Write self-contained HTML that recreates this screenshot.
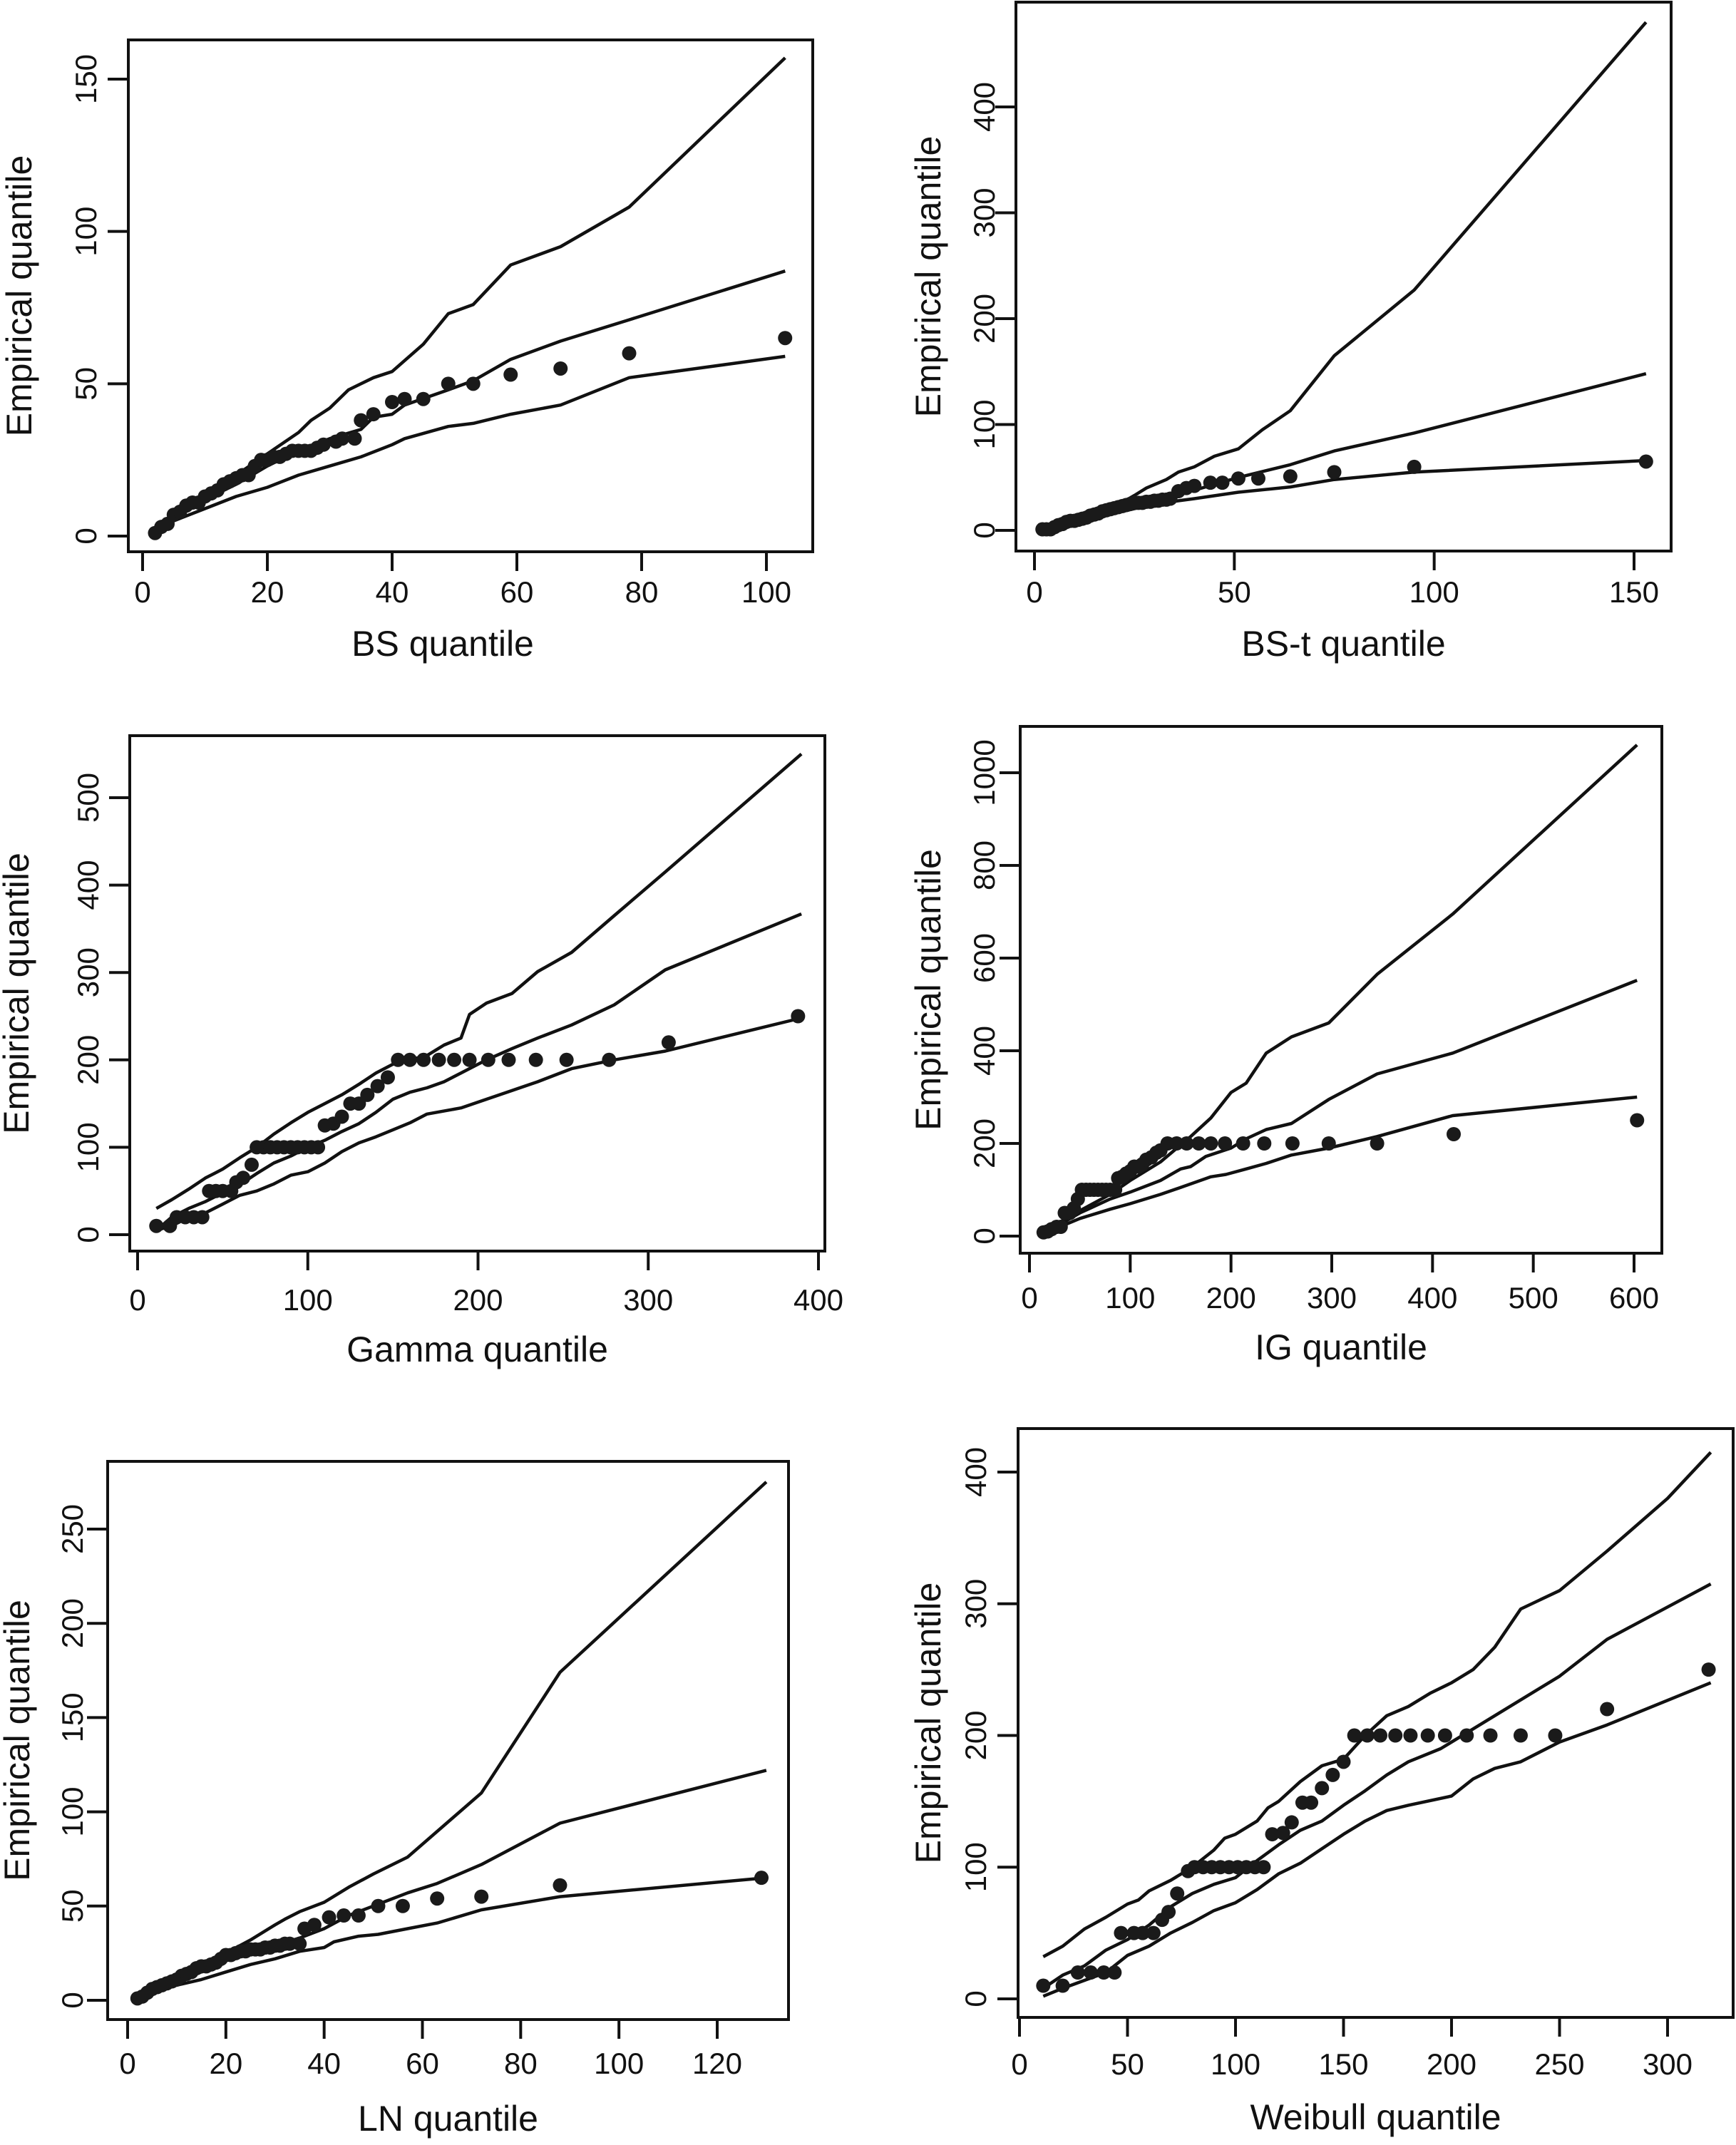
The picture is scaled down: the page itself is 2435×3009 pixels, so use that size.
<!DOCTYPE html>
<html><head><meta charset="utf-8"><style>
html,body{margin:0;padding:0;background:#fff;}
svg{display:block;font-family:"Liberation Sans",Arial,sans-serif;}
</style></head><body>
<svg id="fig" width="2435" height="3009" viewBox="0 0 2435 3009" xmlns="http://www.w3.org/2000/svg"></svg>
<script>
// ---- Panel 1: BS ----
const bsXTicks=[0,20,40,60,80,100];
const bsYTicks=[0,50,100,150];
const bsUpper=[[2,1],[5,7],[10,13],[15,20],[20,27],[25,34],[27,38],[30,42],[33,48],[37,52],[40,54],[45,63],[49,73],[53,76],[59,89],[67,95],[78,108],[103,157]];
const bsMedian=[[2,1],[5,6],[10,12],[15,17],[20,23],[25,28],[30,32],[35,35],[37,39],[40,40],[42,43],[49,48],[53,51],[59,58],[67,64],[78,71],[103,87]];
const bsLower=[[2,1],[5,5],[10,9],[15,13],[20,16],[25,20],[30,23],[35,26],[40,30],[42,32],[49,36],[53,37],[59,40],[67,43],[78,52],[103,59]];
const bsPoints=[[2,1],[3,3],[4,4],[5,7],[6,8],[7,10],[8,11],[9,11],[10,13],[11,14],[12,15],[13,17],[14,18],[15,19],[16,20],[17,20],[18,23],[19,25],[20,25],[21,26],[22,26],[23,27],[24,28],[25,28],[26,28],[27,28],[28,29],[29,30],[31,31],[32,32],[34,32],[35,38],[37,40],[40,44],[42,45],[45,45],[49,50],[53,50],[59,53],[67,55],[78,60],[103,65]];
// ---- Panel 2: BS-t ----
const btXTicks=[0,50,100,150];
const btYTicks=[0,100,200,300,400];
const btUpper=[[2,2],[10,10],[20,22],[25,33],[28,40],[33,48],[36,55],[40,60],[45,70],[51,77],[57,95],[64,113],[75,165],[95,227],[153,480]];
const btMedian=[[2,1],[10,9],[20,20],[30,27],[40,38],[51,50],[64,62],[75,75],[95,92],[153,148]];
const btLower=[[2,1],[10,8],[20,16],[30,25],[40,30],[51,36],[64,41],[75,48],[95,55],[153,66]];
const btPoints=[[2,1],[3,1],[4,1],[5,3],[6,5],[7,6],[8,8],[9,9],[10,9],[11,10],[12,11],[13,12],[14,14],[15,15],[16,16],[17,18],[18,19],[19,20],[20,21],[21,22],[22,23],[23,24],[24,25],[25,26],[26,26],[27,26],[28,27],[29,27],[30,28],[31,28],[32,29],[33,29],[34,30],[36,37],[38,40],[40,42],[44,45],[47,45],[51,49],[56,49],[64,51],[75,55],[95,60],[153,65]];
// ---- Panel 3: Gamma ----
const gaXTicks=[0,100,200,300,400];
const gaYTicks=[0,100,200,300,400,500];
const gaUpper=[[11,30],[20,40],[30,52],[40,65],[45,70],[50,75],[60,88],[70,100],[80,115],[90,128],[100,140],[110,150],[120,160],[130,172],[140,185],[150,195],[160,200],[170,205],[180,217],[190,225],[195,252],[205,265],[220,276],[235,301],[255,323],[280,365],[310,415],[390,550]];
const gaMedian=[[11,5],[20,20],[30,30],[40,38],[50,48],[60,57],[70,70],[80,82],[90,90],[100,100],[110,108],[120,118],[130,127],[140,140],[150,155],[160,163],[170,168],[180,175],[190,185],[205,200],[220,213],[235,225],[255,240],[280,263],[310,303],[390,367]];
const gaLower=[[11,5],[20,10],[30,20],[40,25],[50,35],[60,45],[70,50],[80,58],[90,68],[100,72],[110,82],[120,95],[130,105],[140,112],[150,120],[160,128],[170,138],[190,145],[205,155],[220,165],[235,175],[255,190],[280,200],[310,210],[390,248]];
const gaPoints=[[11,10],[19,10],[23,20],[28,20],[33,20],[38,20],[42,50],[46,50],[50,50],[55,50],[58,60],[62,65],[67,80],[70,100],[74,100],[78,100],[82,100],[86,100],[90,100],[94,100],[98,100],[102,100],[106,100],[110,125],[115,127],[120,135],[125,150],[130,150],[135,160],[141,170],[147,180],[153,200],[160,200],[168,200],[177,200],[186,200],[195,200],[206,200],[218,200],[234,200],[252,200],[277,200],[312,220],[388,250]];
// ---- Panel 4: IG ----
const igXTicks=[0,100,200,300,400,500,600];
const igYTicks=[0,200,400,600,800,1000];
const igUpper=[[14,10],[30,30],[50,55],[80,90],[100,120],[130,160],[160,215],[180,255],[200,310],[215,330],[235,395],[260,430],[297,460],[345,565],[420,695],[603,1060]];
const igMedian=[[14,8],[30,25],[50,50],[80,80],[100,95],[130,120],[150,145],[160,150],[175,172],[200,190],[215,210],[235,230],[260,243],[297,295],[345,350],[420,395],[603,552]];
const igLower=[[14,5],[30,20],[50,38],[80,58],[100,70],[130,90],[150,105],[180,128],[195,133],[215,145],[235,157],[260,175],[297,190],[345,215],[420,260],[603,300]];
const igPoints=[[14,8],[18,10],[22,15],[27,20],[31,20],[35,50],[40,50],[44,60],[48,80],[52,100],[56,100],[60,100],[64,100],[68,100],[72,100],[76,100],[80,100],[85,100],[88,125],[92,128],[96,135],[100,140],[104,150],[108,150],[112,155],[116,165],[121,170],[126,180],[130,185],[137,200],[146,200],[156,200],[168,200],[180,200],[194,200],[212,200],[233,200],[261,200],[297,200],[345,200],[421,220],[603,250]];
// ---- Panel 5: LN ----
const lnXTicks=[0,20,40,60,80,100,120];
const lnYTicks=[0,50,100,150,200,250];
const lnUpper=[[2,1],[5,5],[10,10],[15,16],[20,25],[25,32],[30,40],[32,43],[35,47],[40,52],[45,60],[50,67],[57,76],[72,110],[88,174],[130,275]];
const lnMedian=[[2,1],[5,5],[10,10],[15,15],[20,22],[25,26],[30,29],[35,33],[40,38],[45,45],[50,50],[57,57],[63,62],[72,72],[88,94],[130,122]];
const lnLower=[[2,1],[5,5],[10,8],[15,11],[20,15],[25,19],[30,22],[35,26],[40,28],[42,31],[47,34],[51,35],[57,38],[63,41],[72,48],[88,55],[130,65]];
const lnPoints=[[2,1],[3,2],[4,4],[5,6],[6,7],[7,8],[8,9],[9,10],[10,11],[11,13],[12,14],[13,15],[14,17],[15,18],[16,18],[17,19],[18,20],[19,22],[20,24],[21,24],[22,25],[23,26],[24,26],[25,27],[26,27],[27,27],[28,28],[29,28],[30,29],[31,29],[32,30],[33,30],[35,30],[36,38],[38,40],[41,44],[44,45],[47,45],[51,50],[56,50],[63,54],[72,55],[88,61],[129,65]];
// ---- Panel 6: Weibull ----
const wbXTicks=[0,50,100,150,200,250,300];
const wbYTicks=[0,100,200,300,400];
const wbUpper=[[11,32],[20,40],[30,53],[40,62],[50,72],[55,75],[60,82],[70,90],[80,100],[90,113],[95,122],[100,125],[110,135],[115,145],[120,150],[130,165],[140,177],[150,182],[160,200],[170,215],[180,222],[190,232],[200,240],[210,250],[220,267],[232,296],[250,310],[272,340],[300,380],[320,415]];
const wbMedian=[[11,8],[20,18],[30,25],[40,37],[50,45],[60,56],[70,70],[80,80],[90,87],[100,92],[110,105],[120,117],[130,128],[140,135],[150,147],[160,158],[170,170],[180,180],[195,190],[210,205],[220,215],[250,245],[272,273],[320,315]];
const wbLower=[[11,2],[20,8],[30,14],[40,20],[50,33],[60,40],[70,50],[80,58],[90,67],[100,73],[110,83],[120,95],[130,103],[140,114],[150,125],[160,135],[170,143],[180,147],[200,154],[210,167],[220,175],[232,180],[250,195],[272,208],[320,240]];
const wbPoints=[[11,10],[20,10],[27,20],[33,20],[39,20],[44,20],[47,50],[53,50],[57,50],[62,50],[66,60],[69,66],[73,80],[78,97],[81,100],[85,100],[89,100],[93,100],[97,100],[101,100],[105,100],[109,100],[113,100],[117,125],[122,126],[126,134],[131,149],[135,149],[140,160],[145,170],[150,180],[155,200],[161,200],[167,200],[174,200],[181,200],[189,200],[197,200],[207,200],[218,200],[232,200],[248,200],[272,220],[319,250]];

const NS='http://www.w3.org/2000/svg';
const svg=document.getElementById('fig');
function mk(tag,attrs,parent){const e=document.createElementNS(NS,tag);for(const k in attrs)e.setAttribute(k,attrs[k]);parent.appendChild(e);return e;}

const panels=[
 {id:'bs',title:'BS quantile',tcx:621,box:[180,56,1140,774],x0:[0,200],x1:[100,1075],y0:[0,752],y1:[150,111],lab:830,tit:903,ylx:120,ytx:27,xt:bsXTicks,yt:bsYTicks,up:bsUpper,md:bsMedian,lo:bsLower,pts:bsPoints},
 {id:'bst',title:'BS-t quantile',box:[1425,3,2344,773],x0:[0,1451],x1:[150,2292],y0:[0,744],y1:[400,150],lab:830,tit:903,ylx:1380,ytx:1302,xt:btXTicks,yt:btYTicks,up:btUpper,md:btMedian,lo:btLower,pts:btPoints},
 {id:'gamma',title:'Gamma quantile',box:[182,1032,1157,1755],x0:[0,193],x1:[400,1148],y0:[0,1732],y1:[500,1119],lab:1823,tit:1893,ylx:123,ytx:23,xt:gaXTicks,yt:gaYTicks,up:gaUpper,md:gaMedian,lo:gaLower,pts:gaPoints},
 {id:'ig',title:'IG quantile',box:[1431,1019,2331,1758],x0:[0,1444],x1:[600,2292],y0:[0,1734],y1:[1000,1084],lab:1820,tit:1890,ylx:1380,ytx:1302,xt:igXTicks,yt:igYTicks,up:igUpper,md:igMedian,lo:igLower,pts:igPoints},
 {id:'ln',title:'LN quantile',box:[151,2050,1106,2833],x0:[0,179],x1:[120,1006],y0:[0,2806],y1:[250,2145],lab:2894,tit:2972,ylx:101,ytx:24,xt:lnXTicks,yt:lnYTicks,up:lnUpper,md:lnMedian,lo:lnLower,pts:lnPoints},
 {id:'weibull',title:'Weibull quantile',box:[1428,2004,2431,2830],x0:[0,1430],x1:[300,2339],y0:[0,2804],y1:[400,2065],lab:2895,tit:2970,ylx:1368,ytx:1302,xt:wbXTicks,yt:wbYTicks,up:wbUpper,md:wbMedian,lo:wbLower,pts:wbPoints}
];

panels.forEach(p=>{
 const g=mk('g',{},svg);
 
 
 const sx=v=>p.x0[1]+(v-p.x0[0])*(p.x1[1]-p.x0[1])/(p.x1[0]-p.x0[0]);
 const sy=v=>p.y0[1]+(v-p.y0[0])*(p.y1[1]-p.y0[1])/(p.y1[0]-p.y0[0]);
 const [L,T,R,B]=p.box;
 const box=mk('rect',{x:L,y:T,width:R-L,height:B-T,fill:'none',stroke:'#111',"stroke-width":4},g);
 
 
 p.xt.forEach(t=>{
  const x=sx(t);
  const tk=mk('line',{x1:x,y1:B+2,x2:x,y2:B+27,stroke:'#111',"stroke-width":4},g);
  
  
  const tx=mk('text',{x:x,y:p.lab+15,"font-size":42,"text-anchor":"middle",fill:'#111'},g);
  tx.textContent=t;
  
  
 });
 p.yt.forEach(t=>{
  const y=sy(t);
  const tk=mk('line',{x1:L-2,y1:y,x2:L-29,y2:y,stroke:'#111',"stroke-width":4},g);
  
  
  const tx=mk('text',{x:0,y:0,"font-size":42,"text-anchor":"middle",fill:'#111',transform:`translate(${p.ylx+15},${y}) rotate(-90)`},g);
  tx.textContent=t;
  
  
 });
 const cx=p.tcx!==undefined?p.tcx:(L+R)/2;
 const xt=mk('text',{x:cx,y:p.tit+17,"font-size":50,"text-anchor":"middle",fill:'#111'},g);
 xt.textContent=p.title;
 
 
 const yt=mk('text',{x:0,y:0,"font-size":50,"text-anchor":"middle",fill:'#111',transform:`translate(${p.ytx+17},${(T+B)/2}) rotate(-90)`},g);
 yt.textContent='Empirical quantile';
 
 
 [['upper-envelope',p.up],['median-line',p.md],['lower-envelope',p.lo]].forEach(([nm,arr])=>{
  const d=arr.map((pt,i)=>(i?'L':'M')+sx(pt[0]).toFixed(1)+' '+sy(pt[1]).toFixed(1)).join(' ');
  const path=mk('path',{d:d,fill:'none',stroke:'#111',"stroke-width":4.5,"stroke-linejoin":'round'},g);
  
  
 });
 p.pts.forEach(pt=>{
  const c=mk('circle',{cx:sx(pt[0]),cy:sy(pt[1]),r:10,fill:'#1a1a1a'},g);
  
  
 });
});
</script>
</body></html>
